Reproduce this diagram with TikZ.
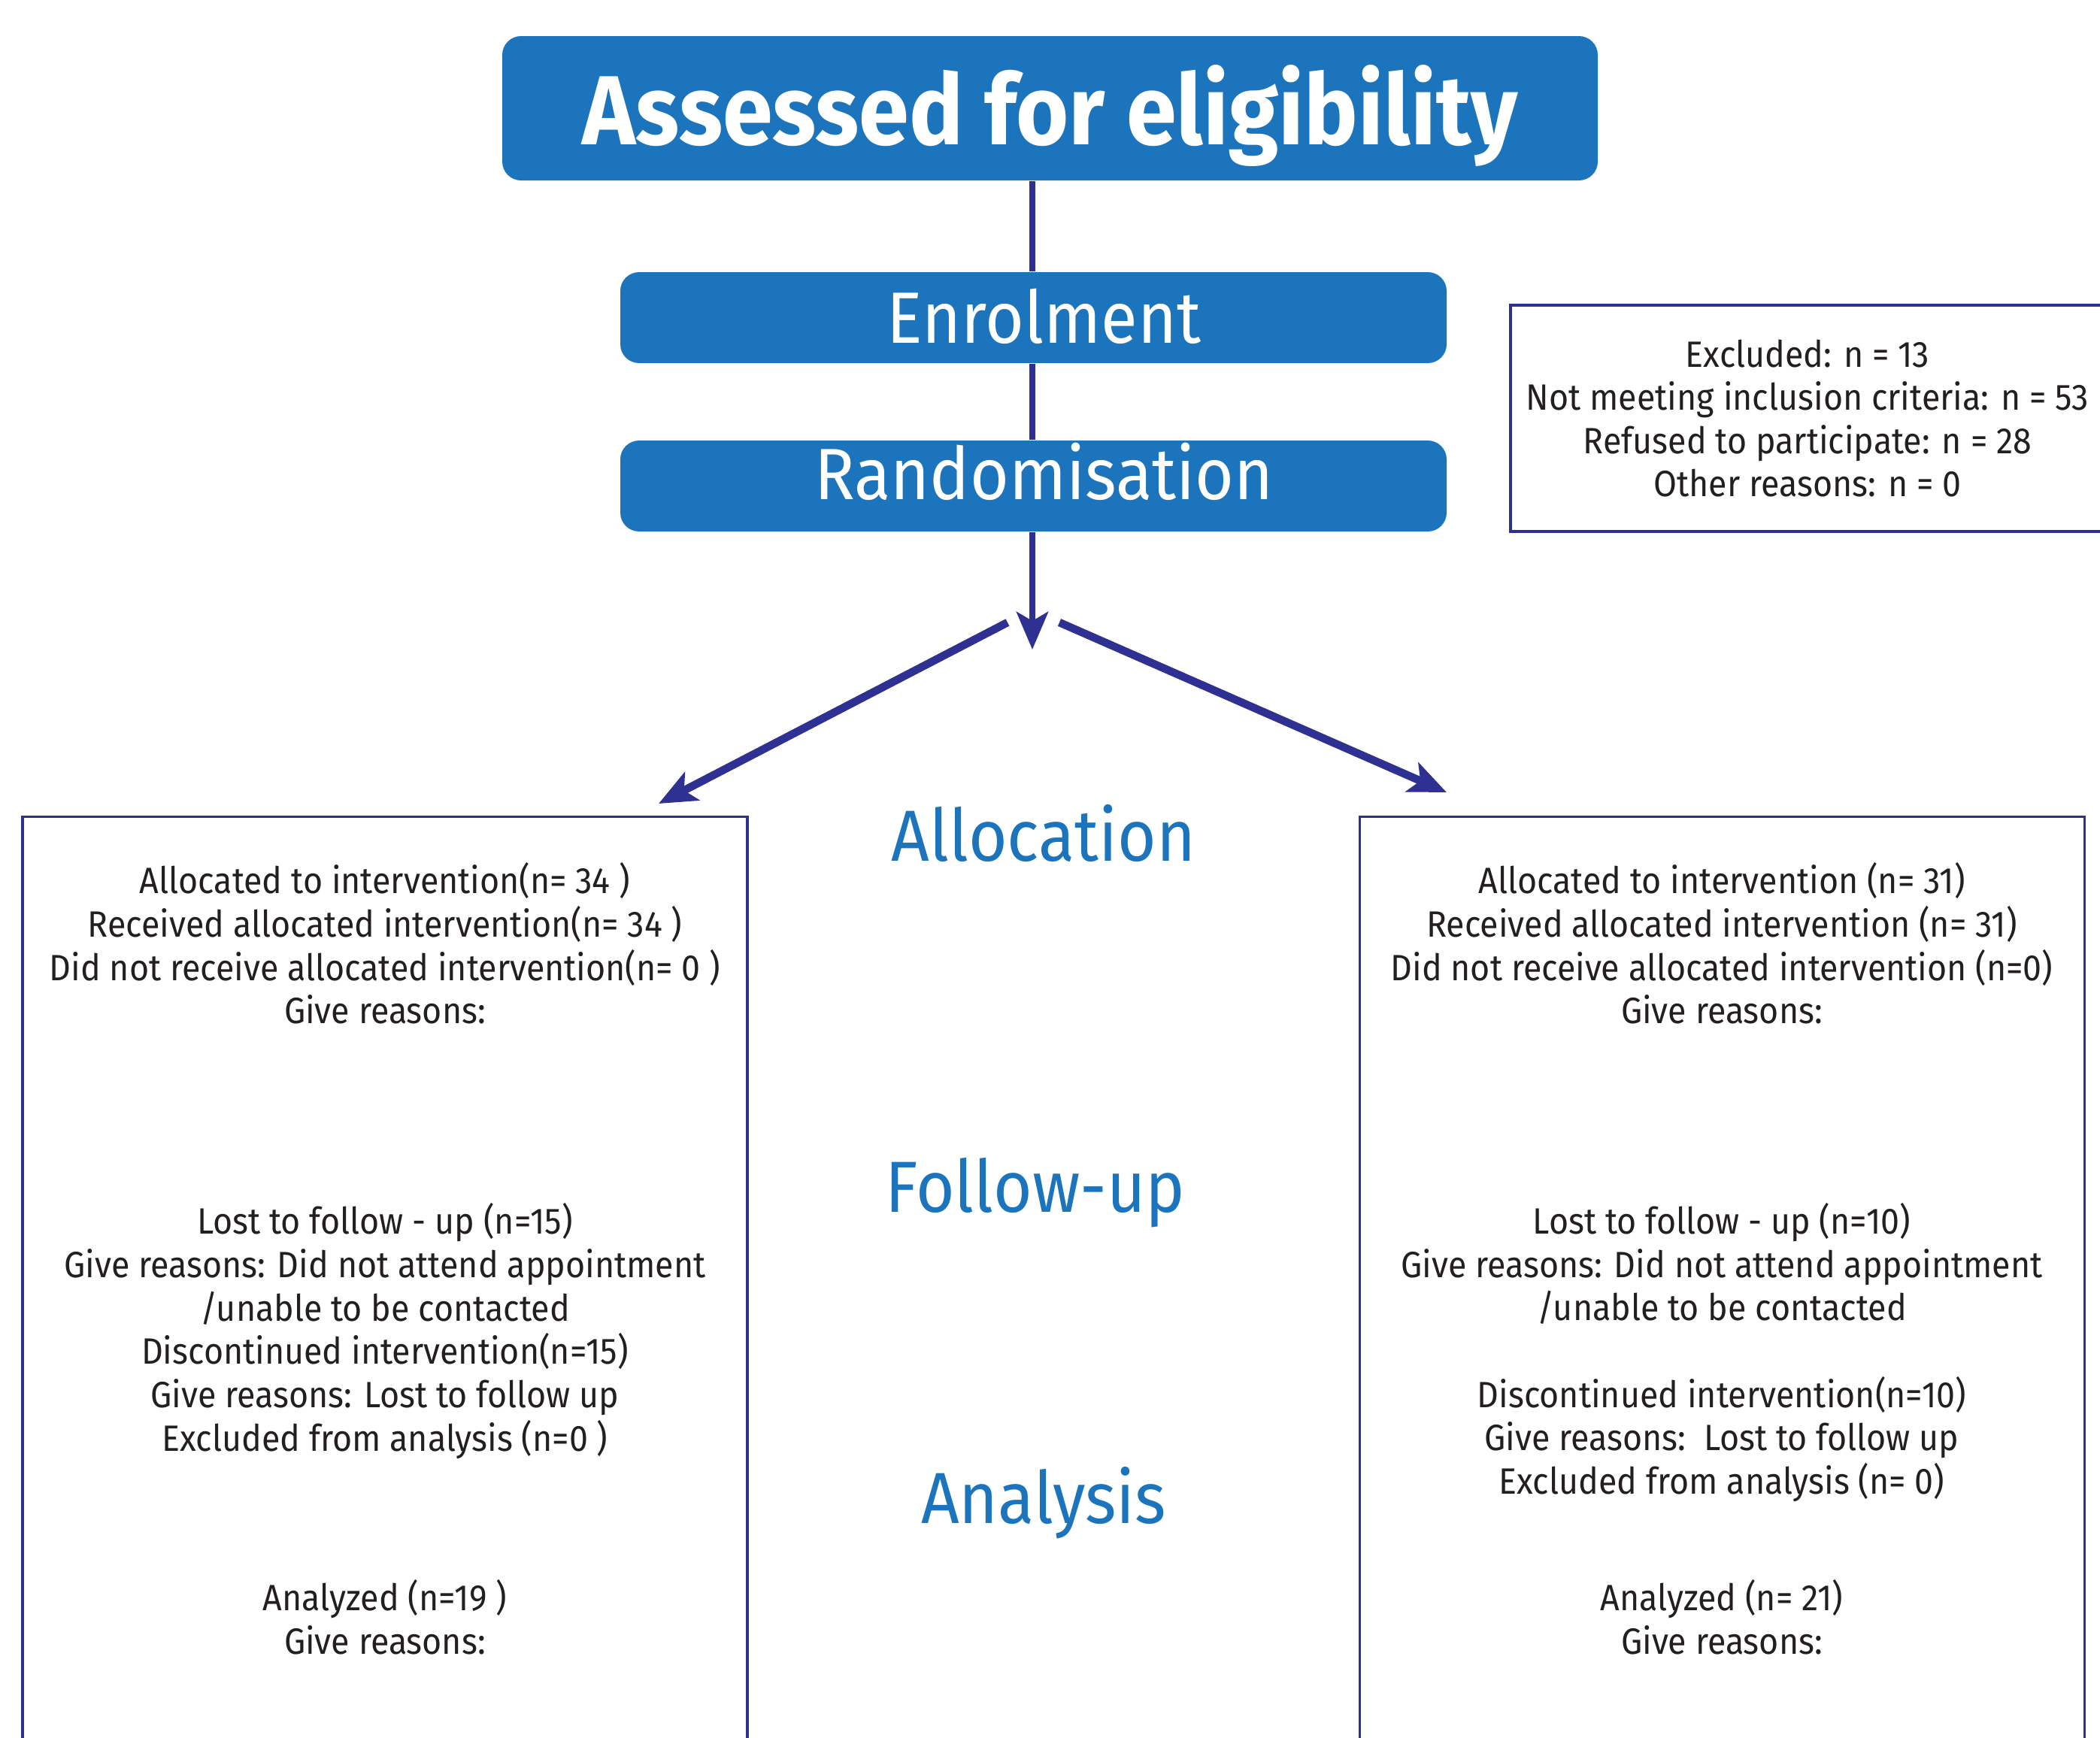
\documentclass[tikz,border=0pt]{standalone}
\usepackage{fontspec}
\setmainfont[FakeStretch=0.92]{Fira Sans}
\usetikzlibrary{positioning,arrows.meta}

\definecolor{boxblue}{HTML}{1C75BC}
\definecolor{arrowblue}{HTML}{2E3192}
\definecolor{textgrey}{HTML}{231F20}

\begin{document}
\begin{tikzpicture}[
        stage/.style={fill=boxblue, rounded corners=2.5mm, text=white, inner sep=0pt, text depth=0pt, minimum width=10.99cm, minimum height=1.21cm, font=\fontsize{27.5}{30}\selectfont},
        arm/.style={draw=arrowblue, line width=0.9pt, minimum width=9.64cm, minimum height=13cm, anchor=north},
        info/.style={align=center, text=textgrey, font=\fontsize{13.85}{16.4}\selectfont},
        phase/.style={text=boxblue, font=\fontsize{27.4}{30}\selectfont},
        flow/.style={draw=arrowblue, line width=2.4pt},
        branch/.style={draw=arrowblue, line width=3pt, -{Stealth[length=5mm, width=4.2mm, inset=1.2mm]}}
    ]
        \clip (0,0) rectangle (27.93,-23.11);

        % enrolment stages
        \node[stage, minimum width=14.57cm, minimum height=1.92cm, text height=0.96cm, font=\bfseries\fontsize{37.2}{40}\selectfont] (s1) at (13.965,-1.44) {Assessed for eligibility};
        \node[stage, text height=0.67cm] (s2) at (13.745,-4.225) {\hspace{0.28cm}Enrolment};
        \node[stage, text height=0.36cm] (s3) at (13.745,-6.465) {\hspace{0.28cm}Randomisation};
        \coordinate (fork) at (13.73,-8.64);

        \node[info, draw=arrowblue, line width=0.9pt, minimum width=7.9cm, minimum height=3.01cm] (ex) at (24.04,-5.565)
            {Excluded: n = 13\\Not meeting inclusion criteria: n = 53\\Refused to participate: n = 28\\Other reasons: n = 0};

        % the two arms
        \node[arm] (g1) at (5.12,-10.85) {};
        \node[arm] (g2) at (22.905,-10.85) {};
        \coordinate (l0) at (13.40,-8.28);
        \coordinate (l1) at (8.76,-10.69);
        \coordinate (r0) at (14.09,-8.28);
        \coordinate (r1) at (19.24,-10.54);

        \node[phase] (p1) at (13.88,-11.08) {Allocation};
        \node[phase] (p2) at (13.77,-15.87) {Follow-up};
        \node[phase] (p3) at (13.88,-19.99) {Analysis};

        \node[info] (a1) at (5.12,-12.55) {Allocated to intervention(n= 34 )\\Received allocated intervention(n= 34 )\\Did not receive allocated intervention(n= 0 )\\Give reasons:};
        \node[info] (a2) at (5.12,-17.705) {Lost to follow - up (n=15)\\Give reasons: Did not attend appointment\\/unable to be contacted\\Discontinued intervention(n=15)\\Give reasons: Lost to follow up\\Excluded from analysis (n=0 )};
        \node[info] (a3) at (5.12,-21.515) {Analyzed (n=19 )\\Give reasons:};

        \node[info] (b1) at (22.9,-12.55) {Allocated to intervention (n= 31)\\Received allocated intervention (n= 31)\\Did not receive allocated intervention (n=0)\\Give reasons:};
        \node[info] (b2) at (22.9,-17.99) {Lost to follow - up (n=10)\\Give reasons: Did not attend appointment\\/unable to be contacted\\[16.4pt]Discontinued intervention(n=10)\\Give reasons:\ \ Lost to follow up\\Excluded from analysis (n= 0)};
        \node[info] (b3) at (22.9,-21.515) {Analyzed (n= 21)\\Give reasons:};

        \draw[flow] (s1.south -| fork) -- (s2.north -| fork);
        \draw[flow] (s2.south -| fork) -- (s3.north -| fork);
        \draw[flow, -{Stealth[length=5mm, width=4.2mm, inset=1.2mm]}] (s3.south -| fork) -- (fork);
        \draw[branch] (l0) -- (l1);
        \draw[branch] (r0) -- (r1);
    \end{tikzpicture}
\end{document}
